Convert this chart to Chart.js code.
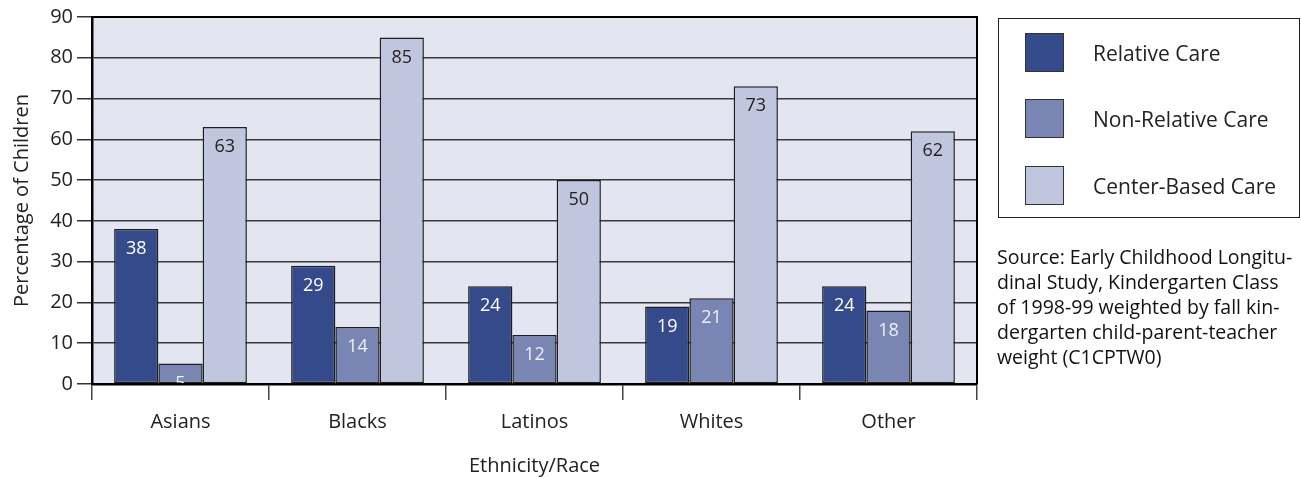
<!DOCTYPE html>
<html>
<head>
<meta charset="utf-8">
<script src="https://cdn.jsdelivr.net/npm/chart.js@4.4.0/dist/chart.umd.min.js"></script>
<style>
  html, body { margin: 0; padding: 0; background: #ffffff; }
  #wrap { position: relative; width: 1301px; height: 477px; overflow: hidden; font-family: "Open Sans", sans-serif; }
  #c { position: absolute; left: 0; top: 0; }
  #legend { position: absolute; left: 998px; top: 18px; width: 300px; height: 198px; border: 1.5px solid #222; box-sizing: content-box; }
  .item { position: absolute; left: 0; width: 100%; height: 40px; }
  .sw { position: absolute; left: 26px; top: 0; width: 37px; height: 37px; border: 1.5px solid #333; }
  .lbl { position: absolute; left: 94px; top: 0; line-height: 40px; font-size: 21px; color: #222; white-space: nowrap; }
  #source { position: absolute; left: 997px; top: 244px; width: 304px; font-size: 19.5px; line-height: 25px; color: #111; white-space: nowrap; }
</style>
</head>
<body>
<div id="wrap">
  <canvas id="c" width="1301" height="477"></canvas>
  <div id="legend"></div>
  <div id="source"></div>
</div>
<script>
// ---- data ----
const categories = ['Asians', 'Blacks', 'Latinos', 'Whites', 'Other'];
const seriesNames = ['Relative Care', 'Non-Relative Care', 'Center-Based Care'];
const relativeCare = [38, 29, 24, 19, 24];
const nonRelativeCare = [5, 14, 12, 21, 18];
const centerBasedCare = [63, 85, 50, 73, 62];
const yTicks = [0, 10, 20, 30, 40, 50, 60, 70, 80, 90];
const xTitle = 'Ethnicity/Race';
const yTitle = 'Percentage of Children';
const sourceLines = [
  'Source: Early Childhood Longitu-',
  'dinal Study, Kindergarten Class',
  'of 1998-99 weighted by fall kin-',
  'dergarten child-parent-teacher',
  'weight (C1CPTW0)'
];

// ---- styles ----
const seriesColors = ['#354a8a', '#7985b3', '#c0c6dd'];
const labelColors = ['#ffffff', '#eef0f6', '#222222'];
const plotBg = '#e3e6f0';
const FONT = '"Open Sans", sans-serif';

// legend + source (HTML text)
const legendEl = document.getElementById('legend');
const itemTops = [14, 80, 147];
seriesNames.forEach((n, i) => {
  const it = document.createElement('div');
  it.className = 'item';
  it.style.top = itemTops[i] + 'px';
  const sw = document.createElement('div');
  sw.className = 'sw';
  sw.style.background = seriesColors[i];
  const lb = document.createElement('div');
  lb.className = 'lbl';
  lb.textContent = n;
  it.appendChild(sw); it.appendChild(lb);
  legendEl.appendChild(it);
});
document.getElementById('source').innerHTML = sourceLines.map(s => s.replace(/&/g,'&amp;')).join('<br>');

const bgPlugin = {
  id: 'plotBg',
  beforeDraw(chart) {
    const a = chart.chartArea, ctx = chart.ctx;
    ctx.save();
    ctx.fillStyle = plotBg;
    ctx.fillRect(a.left, a.top, a.right - a.left, a.bottom - a.top);
    ctx.restore();
  }
};

const framePlugin = {
  id: 'frame',
  afterDatasetsDraw(chart) {
    const a = chart.chartArea, ctx = chart.ctx;
    ctx.save();
    ctx.strokeStyle = '#000';
    ctx.lineWidth = 2;
    ctx.beginPath();
    ctx.moveTo(a.left, a.top);
    ctx.lineTo(a.right, a.top);
    ctx.lineTo(a.right, a.bottom);
    ctx.stroke();
    ctx.restore();
  }
};

const valueLabels = {
  id: 'valueLabels',
  afterDatasetsDraw(chart) {
    const a = chart.chartArea, ctx = chart.ctx;
    ctx.save();
    ctx.beginPath();
    ctx.rect(a.left, a.top, a.right - a.left, a.bottom - a.top - 1);
    ctx.clip();
    ctx.font = '18px ' + FONT;
    ctx.textAlign = 'center';
    ctx.textBaseline = 'middle';
    chart.data.datasets.forEach((ds, di) => {
      const meta = chart.getDatasetMeta(di);
      ctx.fillStyle = labelColors[di];
      meta.data.forEach((bar, i) => {
        ctx.fillText(String(ds.data[i]), bar.x, bar.y + 20);
      });
    });
    ctx.restore();
  }
};

const seriesData = [relativeCare, nonRelativeCare, centerBasedCare];

new Chart(document.getElementById('c'), {
  type: 'bar',
  data: {
    labels: categories,
    datasets: seriesNames.map((n, i) => ({
      label: n,
      data: seriesData[i],
      backgroundColor: seriesColors[i],
      borderColor: '#1e1e1e',
      borderWidth: 1.5,
      borderSkipped: false,
      categoryPercentage: 0.75,
      barPercentage: 1.0
    }))
  },
  options: {
    responsive: false,
    animation: false,
    devicePixelRatio: 1,
    layout: { padding: { left: 0, top: 17, right: 324, bottom: 0 } },
    plugins: { legend: { display: false }, tooltip: { enabled: false } },
    scales: {
      x: {
        afterFit(scale) { scale.height = 93; },
        grid: { offset: true, drawOnChartArea: false, drawTicks: true, tickLength: 16, color: '#444', lineWidth: 1.5 },
        border: { color: '#000', width: 2.5 },
        ticks: { color: '#222', font: { family: FONT, size: 20 }, padding: 10 },
        title: { display: true, text: xTitle, color: '#222', font: { family: FONT, size: 20 }, padding: { top: 0, bottom: -1 } }
      },
      y: {
        min: 0, max: 90,
        afterFit(scale) { scale.width = 92; },
        afterBuildTicks(scale) { scale.ticks = yTicks.map(v => ({ value: v })); },
        grid: { color: '#3a3a3a', lineWidth: 1.5, tickLength: 15, tickColor: '#333' },
        border: { color: '#000', width: 2.5 },
        ticks: { color: '#222', font: { family: FONT, size: 20 }, padding: 4 },
        title: { display: true, text: yTitle, color: '#222', font: { family: FONT, size: 20 }, padding: { top: 10, bottom: 0 } }
      }
    }
  },
  plugins: [bgPlugin, framePlugin, valueLabels]
});
</script>
</body>
</html>
